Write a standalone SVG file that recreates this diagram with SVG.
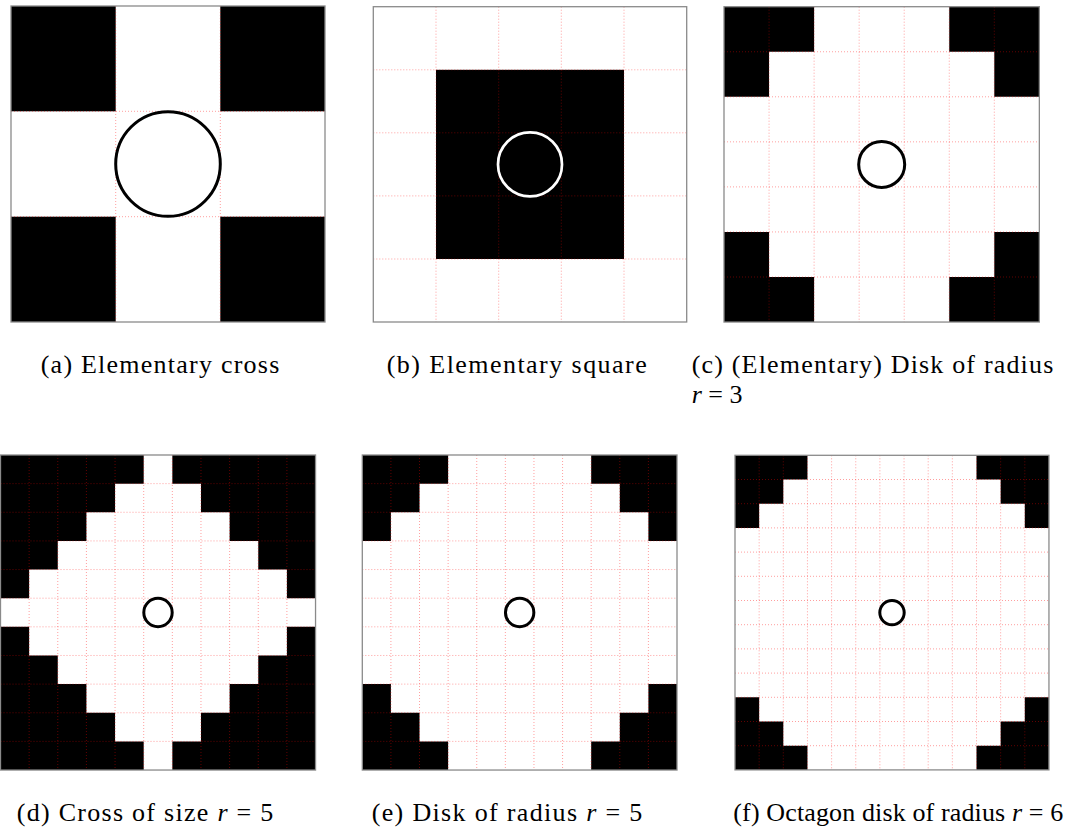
<svg xmlns="http://www.w3.org/2000/svg" width="1065" height="832" viewBox="0 0 1065 832">
<style>
.blk{fill:#000}
.grid{fill:none;stroke:#ff0000;stroke-opacity:0.38;stroke-width:1;stroke-dasharray:1 2}
.frame{fill:none;stroke:#8a8a8a;stroke-width:1.3}
.ring{fill:none;stroke:#000;stroke-width:3}
.cap{font-family:'Liberation Serif','Times New Roman','DejaVu Serif',serif;font-size:26px;fill:#000}
</style>
<rect width="1065" height="832" fill="#fff"/>

<g id="panel-a">
<rect class="blk" x="11" y="6" width="104.7" height="105.3"/>
<rect class="blk" x="220.3" y="6" width="104.7" height="105.3"/>
<rect class="blk" x="11" y="216.7" width="104.7" height="105.3"/>
<rect class="blk" x="220.3" y="216.7" width="104.7" height="105.3"/>
<path class="grid" d="M115.7,6V322M220.3,6V322M11,111.3H325M11,216.7H325"/>
<rect class="frame" x="11" y="6" width="314" height="316"/>
<circle class="ring" cx="168" cy="164" r="52.3"/>
<text class="cap" x="40.7" y="373.3" textLength="238.6" lengthAdjust="spacing">(a) Elementary cross</text>
</g>

<g id="panel-b">
<rect class="blk" x="436" y="69.8" width="188" height="189.2"/>
<path class="grid" d="M436,6.7V322M498.7,6.7V322M561.3,6.7V322M624,6.7V322M373.3,69.8H686.7M373.3,132.8H686.7M373.3,195.9H686.7M373.3,259H686.7"/>
<rect class="frame" x="373.3" y="6.7" width="313.4" height="315.3"/>
<circle cx="530" cy="164.4" r="32" fill="none" stroke="#fff" stroke-width="2.7"/>
<text class="cap" x="386.7" y="373.3" textLength="260" lengthAdjust="spacing">(b) Elementary square</text>
</g>

<g id="panel-c">
<path class="blk" d="M724,6.7H814.1V51.75H769.05V96.8H724Z M949.25,6.7H1039.35V96.8H994.3V51.75H949.25Z M724,231.95H769.05V277H814.1V322.05H724Z M994.3,231.95H1039.35V322.05H949.25V277H994.3Z"/>
<path class="grid" d="M769.05,6.7V322.05M814.1,6.7V322.05M859.15,6.7V322.05M904.2,6.7V322.05M949.25,6.7V322.05M994.3,6.7V322.05M724,51.75H1039.35M724,96.8H1039.35M724,141.85H1039.35M724,186.9H1039.35M724,231.95H1039.35M724,277H1039.35"/>
<rect class="frame" x="724" y="6.7" width="315.35" height="315.35"/>
<circle class="ring" cx="881.7" cy="164.4" r="23"/>
<text class="cap" x="691.7" y="373.3" textLength="361.6" lengthAdjust="spacing">(c) (Elementary) Disk of radius</text>
<text class="cap" x="691.7" y="403"><tspan font-style="italic">r</tspan> = 3</text>
</g>

<g id="panel-d">
<path class="blk" d="M0.5,455H143.7V483.64H115.06V512.28H86.42V540.92H57.78V569.56H29.14V598.2H0.5Z M172.34,455H315.54V598.2H286.9V569.56H258.26V540.92H229.62V512.28H200.98V483.64H172.34Z M0.5,626.84H29.14V655.48H57.78V684.12H86.42V712.76H115.06V741.4H143.7V770.04H0.5Z M286.9,626.84H315.54V770.04H172.34V741.4H200.98V712.76H229.62V684.12H258.26V655.48H286.9Z"/>
<path class="grid" d="M29.14,455V770.04M57.78,455V770.04M86.42,455V770.04M115.06,455V770.04M143.7,455V770.04M172.34,455V770.04M200.98,455V770.04M229.62,455V770.04M258.26,455V770.04M286.9,455V770.04M0.5,483.64H315.54M0.5,512.28H315.54M0.5,540.92H315.54M0.5,569.56H315.54M0.5,598.2H315.54M0.5,626.84H315.54M0.5,655.48H315.54M0.5,684.12H315.54M0.5,712.76H315.54M0.5,741.4H315.54"/>
<rect class="frame" x="0.5" y="455" width="315.04" height="315.04"/>
<circle class="ring" cx="158" cy="612.5" r="14.2" stroke-width="2.7"/>
<text class="cap" x="16.7" y="821" textLength="256.6" lengthAdjust="spacing">(d) Cross of size <tspan font-style="italic">r</tspan> = 5</text>
</g>

<g id="panel-e">
<path class="blk" d="M362.3,455H448.13V483.64H419.52V512.28H390.91V540.92H362.3Z M591.18,455H677V540.92H648.4V512.28H619.79V483.64H591.18Z M362.3,684.12H390.91V712.76H419.52V741.4H448.13V770.04H362.3Z M648.4,684.12H677V770.04H591.18V741.4H619.79V712.76H648.4Z"/>
<path class="grid" d="M390.91,455V770.04M419.52,455V770.04M448.13,455V770.04M476.74,455V770.04M505.35,455V770.04M533.96,455V770.04M562.57,455V770.04M591.18,455V770.04M619.79,455V770.04M648.4,455V770.04M362.3,483.64H677M362.3,512.28H677M362.3,540.92H677M362.3,569.56H677M362.3,598.2H677M362.3,626.84H677M362.3,655.48H677M362.3,684.12H677M362.3,712.76H677M362.3,741.4H677"/>
<rect class="frame" x="362.3" y="455" width="314.7" height="315.04"/>
<circle class="ring" cx="519.65" cy="612.5" r="14.2" stroke-width="2.7"/>
<text class="cap" x="371.7" y="821" textLength="270.6" lengthAdjust="spacing">(e) Disk of radius <tspan font-style="italic">r</tspan> = 5</text>
</g>

<g id="panel-f">
<path class="blk" d="M735,455.3H807.45V479.5H783.3V503.7H759.15V527.9H735Z M976.5,455.3H1048.95V527.9H1024.8V503.7H1000.65V479.5H976.5Z M735,697.3H759.15V721.5H783.3V745.7H807.45V769.9H735Z M1024.8,697.3H1048.95V769.9H976.5V745.7H1000.65V721.5H1024.8Z"/>
<path class="grid" d="M759.15,455.3V769.9M783.3,455.3V769.9M807.45,455.3V769.9M831.6,455.3V769.9M855.75,455.3V769.9M879.9,455.3V769.9M904.05,455.3V769.9M928.2,455.3V769.9M952.35,455.3V769.9M976.5,455.3V769.9M1000.65,455.3V769.9M1024.8,455.3V769.9M735,479.5H1048.95M735,503.7H1048.95M735,527.9H1048.95M735,552.1H1048.95M735,576.3H1048.95M735,600.5H1048.95M735,624.7H1048.95M735,648.9H1048.95M735,673.1H1048.95M735,697.3H1048.95M735,721.5H1048.95M735,745.7H1048.95"/>
<rect class="frame" x="735" y="455.3" width="313.95" height="314.6"/>
<circle class="ring" cx="892" cy="612.6" r="12.2" stroke-width="2.6"/>
<text class="cap" x="733.3" y="821" textLength="330" lengthAdjust="spacing">(f) Octagon disk of radius <tspan font-style="italic">r</tspan> = 6</text>
</g>
</svg>
